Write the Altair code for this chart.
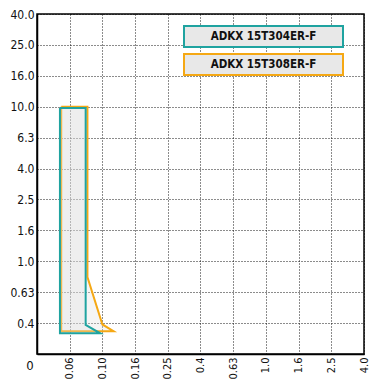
import altair as alt
import pandas as pd

# tick positions follow the R5 series 10^(k/5)
x_tick_labels = ["0", "0.06", "0.10", "0.16", "0.25", "0.4", "0.63", "1.0", "1.6", "2.5", "4.0"]
y_tick_labels = ["0", "0.4", "0.63", "1.0", "1.6", "2.5", "4.0", "6.3", "10.0", "16.0", "25.0", "40.0"]

series_names = ["ADKX 15T304ER-F", "ADKX 15T308ER-F"]
series_colors = ["#1fa3a0", "#f5a814"]

# polygon outlines (x = feed, y = depth), closed
teal_x = [0.055, 0.079, 0.079, 0.097, 0.055, 0.055]
teal_y = [9.8, 9.8, 0.387, 0.342, 0.342, 9.8]
orange_x = [0.056, 0.081, 0.081, 0.100, 0.117, 0.056, 0.056]
orange_y = [10.0, 10.0, 0.79, 0.39, 0.353, 0.353, 10.0]

x_ticks = [10 ** (k / 5) for k in range(-7, 4)]
y_ticks = [10 ** (k / 5) for k in range(-3, 9)]

def poly(xs, ys, name):
    return pd.DataFrame({"x": xs, "y": ys, "order": list(range(len(xs))), "series": name})

df_t = poly(teal_x, teal_y, series_names[0])
df_o = poly(orange_x, orange_y, series_names[1])

FONT = "DejaVu Sans Condensed"
W, H = 327, 340

xlab = "[" + ",".join("'%s'" % s for s in x_tick_labels) + "][round(log(datum.value)/log(10)*5)+7]"
ylab = "[" + ",".join("'%s'" % s for s in y_tick_labels) + "][round(log(datum.value)/log(10)*5)+3]"

xscale = alt.Scale(type="log", domain=[x_ticks[0], x_ticks[-1]], nice=False)
yscale = alt.Scale(type="log", domain=[y_ticks[0], y_ticks[-1]], nice=False)

xaxis = alt.Axis(values=x_ticks[1:], labelExpr=xlab, title=None, labelAngle=-90,
                 labelAlign="right", labelBaseline="middle", labelPadding=3, labelFlush=False,
                 ticks=False, grid=True, gridColor="#000000", gridDash=[1, 2],
                 gridOpacity=0.9, domainColor="#000000", domainWidth=1.5,
                 labelFont=FONT, labelFontSize=11, labelColor="#111111", labelOverlap=False)
yaxis = alt.Axis(values=y_ticks[1:], labelExpr=ylab, title=None, labelPadding=3, labelFlush=False,
                 ticks=False, grid=True, gridColor="#000000", gridDash=[1, 2],
                 gridOpacity=0.9, domainColor="#000000", domainWidth=1.5,
                 labelFont=FONT, labelFontSize=12, labelColor="#111111", labelOverlap=False)

def shape(df, color):
    return alt.Chart(df).mark_line(
        fill="#dddddd", fillOpacity=0.3, stroke=color, strokeWidth=2, strokeJoin="miter",
        interpolate="linear", clip=True
    ).encode(
        x=alt.X("x:Q", scale=xscale, axis=xaxis),
        y=alt.Y("y:Q", scale=yscale, axis=yaxis),
        order="order:Q",
    )

orange = shape(df_o, series_colors[1])
teal = shape(df_t, series_colors[0])

leg_df = pd.DataFrame({"name": series_names, "color": series_colors})

def legend_box(i, ytop):
    d = leg_df.iloc[[i]]
    box = alt.Chart(d).mark_rect(fill="#e8e8e8", stroke=series_colors[i], strokeWidth=2).encode(
        x=alt.value(147), x2=alt.value(306), y=alt.value(ytop), y2=alt.value(ytop + 21))
    txt = alt.Chart(d).mark_text(font=FONT, fontSize=11.5, fontWeight="bold", color="#111111",
                                 align="center", baseline="middle").encode(
        x=alt.value(226.5), y=alt.value(ytop + 11), text="name:N")
    return box + txt

zero = alt.Chart(pd.DataFrame({"t": [x_tick_labels[0]]})).mark_text(
    font=FONT, fontSize=13, color="#111111", align="center", baseline="middle"
).encode(x=alt.value(-7), y=alt.value(H + 12), text="t:N")

chart = alt.layer(orange, teal, legend_box(0, 12), legend_box(1, 40), zero).properties(
    width=W, height=H,
    autosize="none",
    padding={"left": 29, "top": 6, "right": 5, "bottom": 25},
).configure_view(stroke="#000000", strokeWidth=1.5)

chart.save("out.html", embed_options={"renderer": "svg", "actions": False})
